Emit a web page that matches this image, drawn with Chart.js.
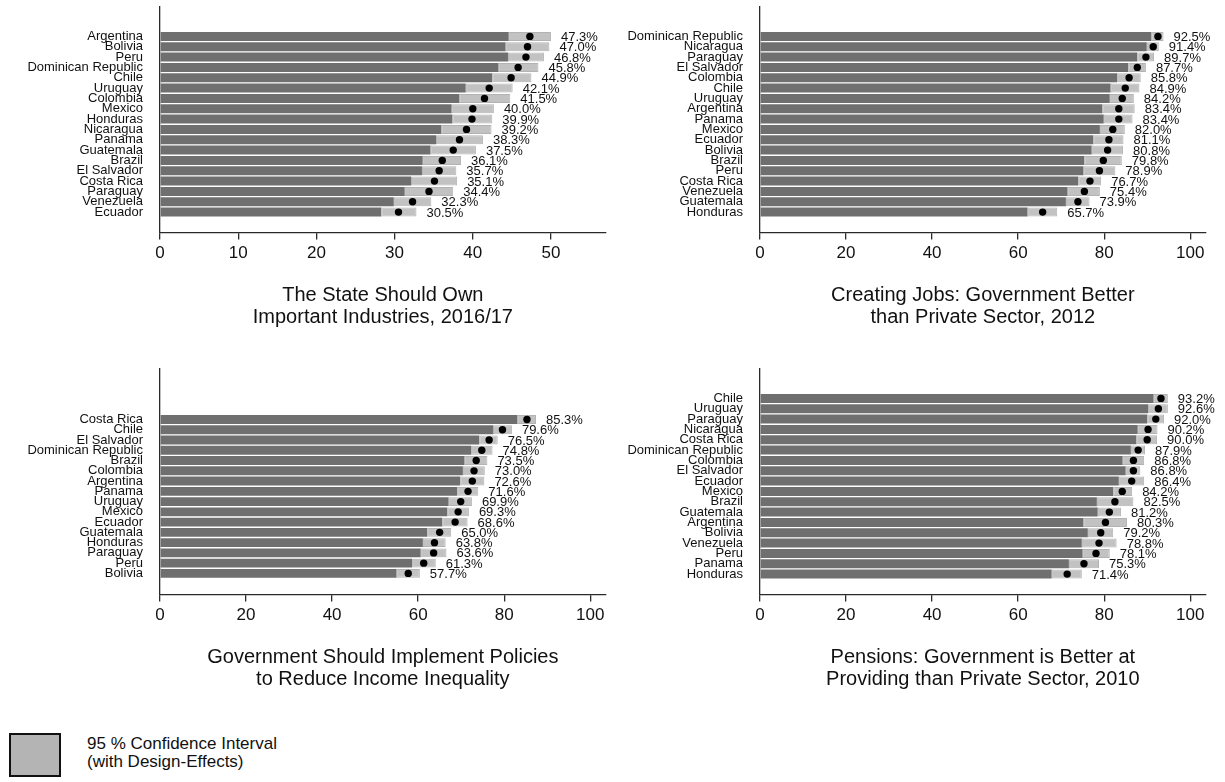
<!DOCTYPE html>
<html lang="en">
<head>
  <meta charset="UTF-8">
  <title>Attitudes towards the state, Latin America</title>
  <script src="https://cdn.jsdelivr.net/npm/chart.js"></script>
  <style>
    body {
      margin: 0;
      background: #fff;
      font-family: "Liberation Sans", Arial, sans-serif;
    }
    #page {
      position: relative;
      width: 1225px;
      height: 782px;
    }
    canvas {
      position: absolute;
    }
    .legend-box {
      position: absolute;
      left: 9px;
      top: 733px;
      width: 48px;
      height: 40px;
      background: #b4b4b4;
      border: 2px solid #111;
    }
    .legend-text {
      position: absolute;
      left: 87px;
      top: 735px;
      font-size: 17px;
      line-height: 18px;
      color: #111;
    }
  </style>
</head>
<body>
  <div id="page">
    <canvas id="ownChart" width="612" height="360" style="left:0;top:0"></canvas>
    <canvas id="jobsChart" width="613" height="360" style="left:612px;top:0"></canvas>
    <canvas id="ineqChart" width="612" height="360" style="left:0;top:362px"></canvas>
    <canvas id="pensChart" width="613" height="360" style="left:612px;top:362px"></canvas>
    <div class="legend-box"></div>
    <div class="legend-text">95 % Confidence Interval<br>(with Design-Effects)</div>
  </div>

  <script>
    // The State Should Own Important Industries, 2016/17
    const ownCountries = ['Argentina', 'Bolivia', 'Peru', 'Dominican Republic', 'Chile', 'Uruguay', 'Colombia', 'Mexico', 'Honduras',
      'Nicaragua', 'Panama', 'Guatemala', 'Brazil', 'El Salvador', 'Costa Rica', 'Paraguay', 'Venezuela', 'Ecuador'];
    const ownMean = [47.3, 47.0, 46.8, 45.8, 44.9, 42.1, 41.5, 40.0, 39.9, 39.2, 38.3, 37.5, 36.1, 35.7, 35.1, 34.4, 32.3, 30.5];
    const ownLow = [44.6, 44.2, 44.5, 43.3, 42.5, 39.1, 38.3, 37.3, 37.4, 36.0, 35.3, 34.6, 33.6, 33.5, 32.1, 31.3, 29.9, 28.3];
    const ownHigh = [50.0, 49.8, 49.1, 48.4, 47.5, 45.1, 44.8, 42.7, 42.5, 42.4, 41.3, 40.4, 38.5, 37.9, 38.0, 37.5, 34.7, 32.8];

    // Creating Jobs: Government Better than Private Sector, 2012
    const jobsCountries = ['Dominican Republic', 'Nicaragua', 'Paraguay', 'El Salvador', 'Colombia', 'Chile', 'Uruguay', 'Argentina',
      'Panama', 'Mexico', 'Ecuador', 'Bolivia', 'Brazil', 'Peru', 'Costa Rica', 'Venezuela', 'Guatemala', 'Honduras'];
    const jobsMean = [92.5, 91.4, 89.7, 87.7, 85.8, 84.9, 84.2, 83.4, 83.4, 82.0, 81.1, 80.8, 79.8, 78.9, 76.7, 75.4, 73.9, 65.7];
    const jobsLow = [91.0, 89.9, 87.7, 85.6, 83.0, 81.5, 81.3, 79.6, 79.9, 79.0, 77.5, 77.1, 75.4, 75.2, 74.0, 71.5, 71.1, 62.2];
    const jobsHigh = [93.8, 92.7, 91.6, 89.7, 88.5, 88.2, 86.9, 87.1, 86.6, 84.8, 84.5, 84.4, 84.1, 82.6, 79.3, 79.0, 76.6, 69.1];

    // Government Should Implement Policies to Reduce Income Inequality
    const ineqCountries = ['Costa Rica', 'Chile', 'El Salvador', 'Dominican Republic', 'Brazil', 'Colombia', 'Argentina', 'Panama',
      'Uruguay', 'Mexico', 'Ecuador', 'Guatemala', 'Honduras', 'Paraguay', 'Peru', 'Bolivia'];
    const ineqMean = [85.3, 79.6, 76.5, 74.8, 73.5, 73.0, 72.6, 71.6, 69.9, 69.3, 68.6, 65.0, 63.8, 63.6, 61.3, 57.7];
    const ineqLow = [83.1, 77.4, 74.2, 72.3, 70.8, 70.4, 69.8, 69.1, 67.1, 66.8, 65.6, 62.1, 61.1, 60.6, 58.6, 55.0];
    const ineqHigh = [87.4, 81.8, 78.5, 77.3, 76.1, 75.5, 75.4, 74.0, 72.5, 71.8, 71.5, 67.7, 66.4, 66.6, 64.1, 60.4];

    // Pensions: Government is Better at Providing than Private Sector, 2010
    const pensCountries = ['Chile', 'Uruguay', 'Paraguay', 'Nicaragua', 'Costa Rica', 'Dominican Republic', 'Colombia', 'El Salvador',
      'Ecuador', 'Mexico', 'Brazil', 'Guatemala', 'Argentina', 'Bolivia', 'Venezuela', 'Peru', 'Panama', 'Honduras'];
    const pensMean = [93.2, 92.6, 92.0, 90.2, 90.0, 87.9, 86.8, 86.8, 86.4, 84.2, 82.5, 81.2, 80.3, 79.2, 78.8, 78.1, 75.3, 71.4];
    const pensLow = [91.5, 90.2, 90.0, 87.8, 87.5, 86.2, 84.3, 85.0, 83.4, 82.1, 78.3, 78.5, 75.2, 76.2, 74.8, 75.0, 71.8, 67.8];
    const pensHigh = [94.8, 94.8, 93.9, 92.4, 92.3, 89.5, 89.3, 88.4, 89.3, 86.5, 86.8, 83.9, 85.3, 82.1, 82.9, 81.3, 78.8, 74.8];

    const FONT = '"Liberation Sans", Arial, sans-serif';
    const DARK = '#6f6f6f';
    const LIGHT = '#c2c2c2';
    const AXIS = '#2a2a2a';
    const SLOTS = 18;

    Chart.defaults.font.family = FONT;

    function makePanel(id, countries, mean, low, high, title, xMax, xStep, axisWidth, padRight) {
      const off = SLOTS - countries.length; // empty rows at the top
      const pos = countries.map((c, i) => i + off);

      const valueLabels = {
        id: 'valueLabels',
        afterDatasetsDraw(chart) {
          const ctx = chart.ctx;
          const xs = chart.scales.x;
          const ys = chart.scales.y;
          ctx.save();
          ctx.font = '13px ' + FONT;
          ctx.fillStyle = '#111';
          ctx.textBaseline = 'middle';
          ctx.textAlign = 'left';
          mean.forEach((m, i) => {
            ctx.fillText(m.toFixed(1) + '%', xs.getPixelForValue(high[i]) + 10, ys.getPixelForValue(pos[i]) + 1);
          });
          ctx.restore();
        }
      };

      new Chart(document.getElementById(id), {
        type: 'bar',
        data: {
          datasets: [
            {
              type: 'scatter',
              data: pos.map((p, i) => ({ x: mean[i], y: p })),
              pointRadius: 3.7,
              pointBackgroundColor: '#000',
              pointBorderWidth: 0,
              order: 0
            },
            {
              data: pos.map((p, i) => ({ x: [low[i], high[i]], y: p })),
              backgroundColor: LIGHT,
              borderColor: '#b3b3b3',
              borderWidth: 1,
              borderSkipped: false,
              grouped: false,
              categoryPercentage: 1,
              barPercentage: 0.87,
              order: 1
            },
            {
              data: pos.map((p, i) => ({ x: [0, low[i]], y: p })),
              backgroundColor: DARK,
              grouped: false,
              categoryPercentage: 1,
              barPercentage: 0.87,
              order: 2
            }
          ]
        },
        options: {
          responsive: false,
          animation: false,
          indexAxis: 'y',
          layout: { padding: { top: 7, right: padRight, left: 0, bottom: 0 } },
          plugins: {
            legend: { display: false },
            tooltip: { enabled: false },
            title: { display: false }
          },
          scales: {
            x: {
              type: 'linear',
              min: 0,
              max: xMax,
              grid: { drawOnChartArea: false, tickLength: 7, color: AXIS, lineWidth: 1.3 },
              border: { color: AXIS, width: 1.3 },
              ticks: { stepSize: xStep, includeBounds: false, color: '#111', font: { size: 17 }, padding: 4, maxRotation: 0 },
              title: {
                display: true,
                text: title,
                color: '#111',
                font: { size: 20, lineHeight: 1.08 },
                padding: { top: 0, bottom: 32 }
              },
              afterFit(s) { s.height = 127.5; }
            },
            y: {
              type: 'linear',
              reverse: true,
              min: -2.24,
              max: 18.37,
              grid: { display: false, drawTicks: true, tickLength: 17 },
              border: { display: true, color: AXIS, width: 1.3 },
              afterBuildTicks(s) { s.ticks = pos.map(p => ({ value: p })); },
              ticks: {
                autoSkip: false,
                padding: 0,
                color: '#111',
                font: { size: 13, lineHeight: 1 },
                callback: (v, i) => countries[i]
              },
              afterFit(s) { s.width = axisWidth; }
            }
          }
        },
        plugins: [valueLabels]
      });
    }

    makePanel('ownChart', ownCountries, ownMean, ownLow, ownHigh,
      ['The State Should Own', 'Important Industries, 2016/17'], 57, 10, 160, 6.3);
    makePanel('jobsChart', jobsCountries, jobsMean, jobsLow, jobsHigh,
      ['Creating Jobs: Government Better', 'than Private Sector, 2012'], 103.6, 20, 148, 19.3);
    makePanel('ineqChart', ineqCountries, ineqMean, ineqLow, ineqHigh,
      ['Government Should Implement Policies', 'to Reduce Income Inequality'], 103.6, 20, 160, 6.3);
    makePanel('pensChart', pensCountries, pensMean, pensLow, pensHigh,
      ['Pensions: Government is Better at', 'Providing than Private Sector, 2010'], 103.6, 20, 148, 19.3);
  </script>
</body>
</html>
